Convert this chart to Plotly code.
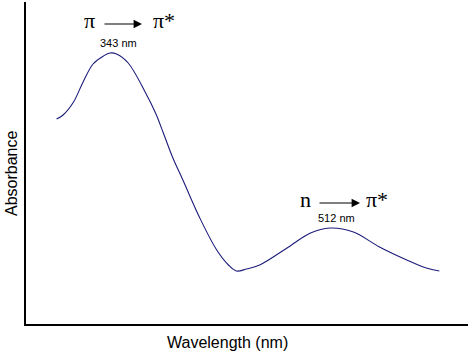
import plotly.graph_objects as go

# Data (wavelength in nm, absorbance in arbitrary units)
wavelength = [302, 307, 315, 322, 330, 338, 343, 348, 357, 370, 378, 384,
              391, 399, 412, 425, 434, 440, 448, 458, 479, 497, 512, 530, 550,
              571, 586, 596]
absorbance = [0.820, 0.836, 0.888, 0.964, 1.040, 1.072, 1.084, 1.080, 1.044,
              0.928, 0.844, 0.764, 0.668, 0.576, 0.424, 0.296, 0.236,
              0.212, 0.220, 0.236, 0.304, 0.364, 0.384, 0.368, 0.308, 0.256,
              0.224, 0.212]

peak_labels = ["343 nm", "512 nm"]
transitions = [("π", "π*"), ("n", "π*")]

W, H = 473, 357
L, R, T, B = 26, 468, 2, 324

def px(x):
    return (x - L) / (R - L)

def py(y):
    return (B - y) / (B - T)

fig = go.Figure()
fig.add_trace(go.Scatter(x=wavelength, y=absorbance, mode="lines",
                         line=dict(color="#1c1c7a", width=1.1, shape="spline", smoothing=1.0),
                         hoverinfo="skip"))

serif = "Liberation Serif, Times New Roman, serif"
sans = "Liberation Sans, Arial, sans-serif"

def text_ann(x, y, text, font, **kw):
    d = dict(x=px(x), y=py(y), xref="paper", yref="paper", text=text, showarrow=False,
             xanchor="center", yanchor="middle", font=font)
    d.update(kw)
    return d

big = dict(family=serif, size=22, color="black")
small = dict(family=sans, size=11, color="black")
title = dict(family=sans, size=16, color="black")

ann = []
# Transition 1
ann.append(text_ann(89, 21, transitions[0][0], big))
ann.append(text_ann(164, 21, transitions[0][1], big))
ann.append(dict(x=px(142), y=py(24), xref="paper", yref="paper", ax=-39, ay=0, text="",
                showarrow=True, arrowhead=2, arrowsize=1.4, arrowwidth=1.2, arrowcolor="black"))
ann.append(text_ann(118, 43, peak_labels[0], small))
# Transition 2
ann.append(text_ann(305, 200, transitions[1][0], big))
ann.append(text_ann(377, 200, transitions[1][1], big))
ann.append(dict(x=px(360), y=py(203), xref="paper", yref="paper", ax=-42, ay=0, text="",
                showarrow=True, arrowhead=2, arrowsize=1.4, arrowwidth=1.2, arrowcolor="black"))
ann.append(text_ann(336, 218, peak_labels[1], small))
# Axis titles
ann.append(text_ann(227, 342, "Wavelength (nm)", title))
ann.append(text_ann(11, 174, "Absorbance", title, textangle=-90))

fig.update_layout(
    width=W, height=H,
    margin=dict(l=L, r=W - R, t=T, b=H - B, autoexpand=False),
    paper_bgcolor="white", plot_bgcolor="white",
    showlegend=False,
    annotations=ann,
    xaxis=dict(range=[278.5, 618], showgrid=False, zeroline=False, showticklabels=False,
               ticks="", showline=True, linecolor="black", linewidth=1.5, fixedrange=True),
    yaxis=dict(range=[0, 1.288], showgrid=False, zeroline=False, showticklabels=False,
               ticks="", showline=True, linecolor="black", linewidth=1.5, fixedrange=True),
)

fig.write_html("out.html", config={"displayModeBar": False},
               post_script="document.body.style.margin='0';document.body.style.padding='0';")
